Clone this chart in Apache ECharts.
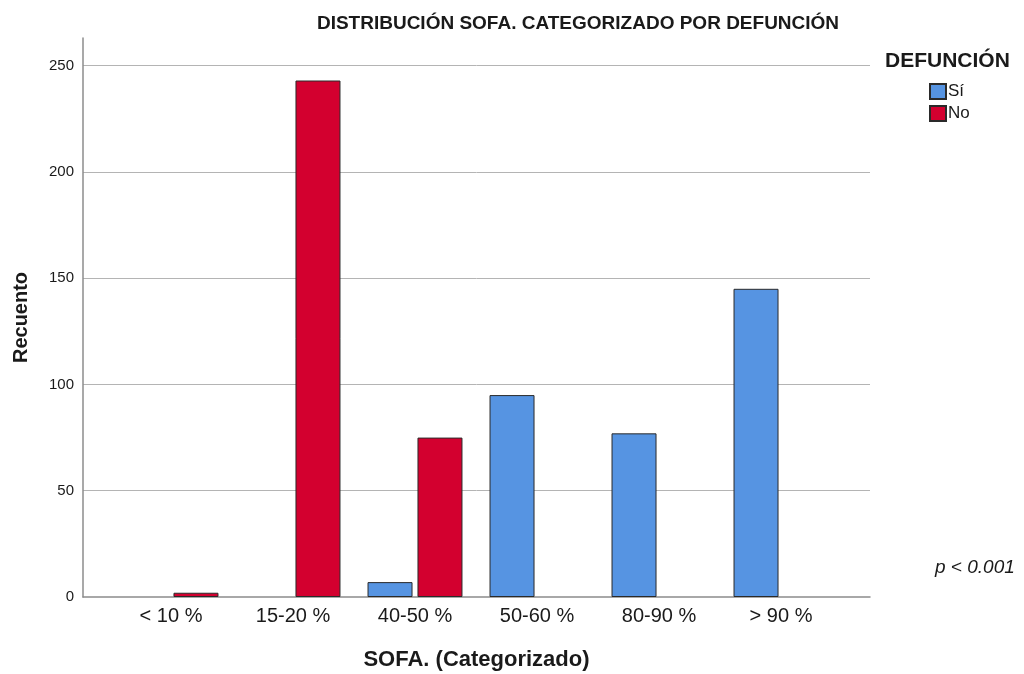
<!DOCTYPE html>
<html>
<head>
<meta charset="utf-8">
<script src="https://cdn.jsdelivr.net/npm/echarts@6/dist/echarts.min.js"></script>
<style>
html,body{margin:0;padding:0;background:#fff;}
#chart{width:1024px;height:674px;}
</style>
</head>
<body>
<div id="chart"></div>
<script>
const categories = ['< 10 %', '15-20 %', '40-50 %', '50-60 %', '80-90 %', '> 90 %'];
const siValues = [0, 0, 7, 95, 77, 145];
const noValues = [2, 243, 75, 0, 0, 0];
const seriesNames = ['Sí', 'No'];

const FONT = '"Liberation Sans", Arial, sans-serif';
const chart = echarts.init(document.getElementById('chart'), null, {renderer: 'canvas'});
const yMax = 263;
const hideZero = arr => arr.map(v => (v === 0 ? '-' : v));

chart.setOption({
  backgroundColor: '#fff',
  animation: false,
  title: [
    {
      text: 'DISTRIBUCIÓN SOFA. CATEGORIZADO POR DEFUNCIÓN',
      left: 573, top: 9, textAlign: 'center',
      textStyle: {fontFamily: FONT, fontSize: 19, fontWeight: 'bold', color: '#1a1a1a'}
    },
    {
      text: 'DEFUNCIÓN',
      left: 880, top: 46,
      textStyle: {fontFamily: FONT, fontSize: 21, fontWeight: 'bold', color: '#1a1a1a'}
    }
  ],
  legend: {
    orient: 'vertical',
    left: 924, top: 78,
    itemWidth: 16, itemHeight: 15, itemGap: 5,
    icon: 'rect',
    data: seriesNames,
    textStyle: {fontFamily: FONT, fontSize: 17, color: '#1a1a1a', padding: [0,0,0,-3]}
  },
  grid: [
    {left: 83, right: 154, top: 38, bottom: 77, outerBoundsMode: 'none', containLabel: false},
    {left: 110, right: 182, top: 38, bottom: 77, outerBoundsMode: 'none', containLabel: false}
  ],
  xAxis: [
    {
      gridIndex: 0, type: 'value', min: 0, max: 1,
      axisLine: {show: true, onZero: false, lineStyle: {color: '#8c8c8c', width: 1.5}},
      axisTick: {show: false}, axisLabel: {show: false}, splitLine: {show: false},
      name: 'SOFA. (Categorizado)', nameLocation: 'middle', nameGap: 52,
      nameTextStyle: {fontFamily: FONT, fontSize: 22, fontWeight: 'bold', color: '#1a1a1a'}
    },
    {
      gridIndex: 1, type: 'category', data: categories,
      axisLine: {show: false}, axisTick: {show: false},
      axisLabel: {fontFamily: FONT, fontSize: 20, color: '#1a1a1a', margin: 9}
    }
  ],
  yAxis: [
    {
      gridIndex: 0, type: 'value', min: 0, max: yMax, interval: 50,
      axisLine: {show: true, lineStyle: {color: '#8c8c8c', width: 1.5}},
      axisTick: {show: false},
      axisLabel: {fontFamily: FONT, fontSize: 15, color: '#1a1a1a', margin: 9, showMaxLabel: false},
      splitLine: {show: true, showMinLine: false, showMaxLine: false, lineStyle: {color: '#b4b4b4', width: 1}},
      name: 'Recuento', nameLocation: 'middle', nameGap: 52,
      nameTextStyle: {fontFamily: FONT, fontSize: 20, fontWeight: 'bold', color: '#1a1a1a'}
    },
    {
      gridIndex: 1, type: 'value', min: 0, max: yMax, interval: 50,
      show: false
    }
  ],
  series: [
    {
      name: seriesNames[0], type: 'bar', xAxisIndex: 1, yAxisIndex: 1,
      data: hideZero(siValues), barWidth: 45, barGap: '11%',
      itemStyle: {color: '#5694e2', borderColor: '#2a2a2a', borderWidth: 1}
    },
    {
      name: seriesNames[1], type: 'bar', xAxisIndex: 1, yAxisIndex: 1,
      data: hideZero(noValues), barWidth: 45, barGap: '11%',
      itemStyle: {color: '#d3002f', borderColor: '#2a2a2a', borderWidth: 1}
    }
  ],
  graphic: [
    {
      type: 'text', left: 935, top: 558,
      style: {text: 'p < 0.001', fontFamily: FONT, fontSize: 19, fontStyle: 'italic', fill: '#1a1a1a'}
    }
  ]
});
</script>
</body>
</html>
